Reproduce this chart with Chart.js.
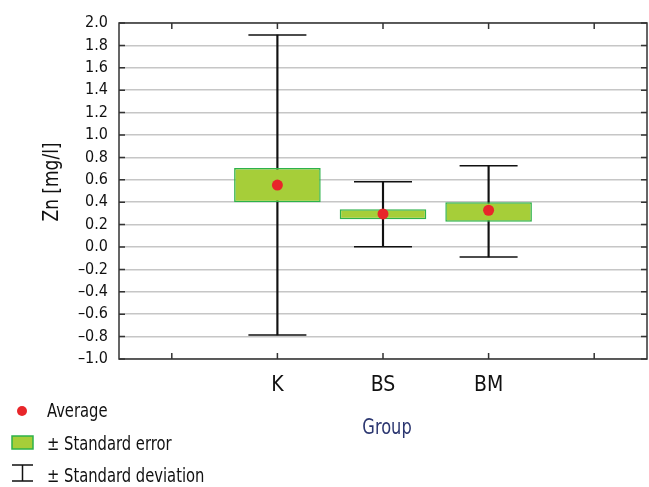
<!DOCTYPE html>
<html>
<head>
<meta charset="utf-8">
<script src="https://cdn.jsdelivr.net/npm/chart.js@4.4.0/dist/chart.umd.min.js"></script>
<style>
html, body { margin: 0; padding: 0; background: #fff; }
#wrap { width: 649px; height: 487px; }
</style>
</head>
<body>
<div id="wrap"><canvas id="chart" width="649" height="487"></canvas></div>
<script>
// groups, with an empty slot on each side like the original plot
const groups = ['', 'K', 'BS', 'BM', ''];
const means  = [null, 0.553, 0.295, 0.328, null];
const seLow  = [null, 0.400, 0.247, 0.226, null];
const seHigh = [null, 0.705, 0.336, 0.400, null];
const sdLow  = [null, -0.785, 0.003, -0.089, null];
const sdHigh = [null, 1.893, 0.583, 0.726, null];

const yMin = -1.0, yMax = 2.0, yStep = 0.2;
const yTitle = 'Zn [mg/l]';
const xTitle = 'Group';
const legendLabels = ['Average', '\u00b1 Standard error', '\u00b1 Standard deviation'];

const FONT = '"DejaVu Sans Condensed", "Liberation Sans Narrow", "Liberation Sans", sans-serif';
const BOX_FILL = '#a6ce39';
const BOX_LINE = '#2db24a';
const MEAN_RED = '#e8262a';
const AXIS_DARK = '#333333';
const CONDENSE = 0.82;  // the original uses a condensed face

function fmtTick(v) {
    const r = Math.round(v * 10) / 10;
    return (r < 0 ? '\u2013' : '') + Math.abs(r).toFixed(1);
}

function pairs(lo, hi) {
    return lo.map((l, i) => (l === null ? null : [l, hi[i]]));
}

// squeezed text, left/center aligned at x
function narrowText(ctx, text, x, y, align) {
    ctx.save();
    ctx.translate(x, y);
    ctx.scale(CONDENSE, 1);
    ctx.textAlign = align;
    ctx.fillText(text, 0, 0);
    ctx.restore();
}

// frame, inward tick marks, axis titles and the legend
const decorPlugin = {
    id: 'decor',
    afterDatasetsDraw(chart) {
        const { ctx, chartArea: a, scales } = chart;
        ctx.save();
        ctx.strokeStyle = AXIS_DARK;
        ctx.lineWidth = 1.5;
        ctx.strokeRect(a.left, a.top, a.right - a.left, a.bottom - a.top);

        ctx.beginPath();
        scales.y.ticks.forEach(t => {
            const y = scales.y.getPixelForValue(t.value);
            ctx.moveTo(a.left, y); ctx.lineTo(a.left + 6, y);
            ctx.moveTo(a.right, y); ctx.lineTo(a.right - 6, y);
        });
        groups.forEach((g, i) => {
            const x = scales.x.getPixelForValue(i);
            ctx.moveTo(x, a.top); ctx.lineTo(x, a.top + 6);
            ctx.moveTo(x, a.bottom); ctx.lineTo(x, a.bottom - 6);
        });
        ctx.stroke();

        ctx.textBaseline = 'alphabetic';

        // y title, rotated
        ctx.fillStyle = '#111';
        ctx.font = '22px ' + FONT;
        ctx.save();
        ctx.translate(58, 182);
        ctx.rotate(-Math.PI / 2);
        ctx.scale(0.86, 1);
        ctx.textAlign = 'center';
        ctx.fillText(yTitle, 0, 0);
        ctx.restore();

        // x title
        ctx.fillStyle = '#2b3670';
        ctx.font = '22px ' + FONT;
        narrowText(ctx, xTitle, (a.left + a.right) / 2 + 4, 434, 'center');

        // legend marks
        ctx.beginPath();
        ctx.fillStyle = MEAN_RED;
        ctx.arc(22, 411, 5, 0, Math.PI * 2);
        ctx.fill();

        ctx.fillStyle = BOX_FILL;
        ctx.fillRect(12, 436, 21, 13);
        ctx.strokeStyle = BOX_LINE;
        ctx.lineWidth = 1.5;
        ctx.strokeRect(12, 436, 21, 13);

        ctx.strokeStyle = '#111';
        ctx.beginPath();
        ctx.moveTo(12, 465); ctx.lineTo(33, 465);
        ctx.moveTo(22.5, 465); ctx.lineTo(22.5, 481);
        ctx.moveTo(12, 481); ctx.lineTo(33, 481);
        ctx.stroke();

        // legend text
        ctx.fillStyle = '#111';
        ctx.font = '20px ' + FONT;
        narrowText(ctx, legendLabels[0], 47, 417, 'left');
        narrowText(ctx, legendLabels[1], 47, 450, 'left');
        narrowText(ctx, legendLabels[2], 47, 482, 'left');
        ctx.restore();
    }
};

new Chart(document.getElementById('chart'), {
    type: 'bar',
    data: {
        labels: groups,
        datasets: [
            {
                type: 'line',
                label: 'Average',
                data: means,
                showLine: false,
                pointRadius: 5.5,
                pointBackgroundColor: MEAN_RED,
                pointBorderWidth: 0,
                order: 0
            },
            {
                label: 'Standard error',
                data: pairs(seLow, seHigh),
                backgroundColor: BOX_FILL,
                borderColor: BOX_LINE,
                borderWidth: 1.5,
                borderSkipped: false,
                barPercentage: 0.82,
                categoryPercentage: 1.0,
                grouped: false,
                order: 1
            },
            {
                type: 'line',
                label: 'SD high',
                data: sdHigh,
                showLine: false,
                pointStyle: 'line',
                pointRadius: 29,
                pointBorderWidth: 1.5,
                pointBorderColor: '#111',
                order: 2
            },
            {
                type: 'line',
                label: 'SD low',
                data: sdLow,
                showLine: false,
                pointStyle: 'line',
                pointRadius: 29,
                pointBorderWidth: 1.5,
                pointBorderColor: '#111',
                order: 2
            },
            {
                label: 'Standard deviation',
                data: pairs(sdLow, sdHigh),
                backgroundColor: '#111',
                barThickness: 1.5,
                grouped: false,
                order: 3
            }
        ]
    },
    options: {
        responsive: false,
        animation: false,
        events: [],
        layout: { autoPadding: false, padding: { top: 23, right: 2, left: 0, bottom: 0 } },
        plugins: {
            legend: { display: false },
            tooltip: { enabled: false }
        },
        scales: {
            x: {
                offset: true,
                grid: { display: false, drawTicks: false },
                border: { display: false },
                ticks: {
                    padding: 14,
                    color: '#111',
                    font: { family: FONT, size: 21 }
                },
                afterFit(scale) {
                    scale.height = 128;
                    scale.paddingLeft = 0;
                    scale.paddingRight = 0;
                }
            },
            y: {
                min: yMin,
                max: yMax,
                grid: { color: '#c6c6c6', lineWidth: 1.5, drawTicks: false },
                border: { display: false },
                ticks: {
                    stepSize: yStep,
                    autoSkip: false,
                    padding: 11,
                    color: '#111',
                    font: { family: FONT, size: 16 },
                    callback: fmtTick
                },
                afterFit(scale) {
                    scale.width = 119;
                    scale.paddingTop = 0;
                    scale.paddingBottom = 0;
                }
            }
        }
    },
    plugins: [decorPlugin]
});
</script>
</body>
</html>
